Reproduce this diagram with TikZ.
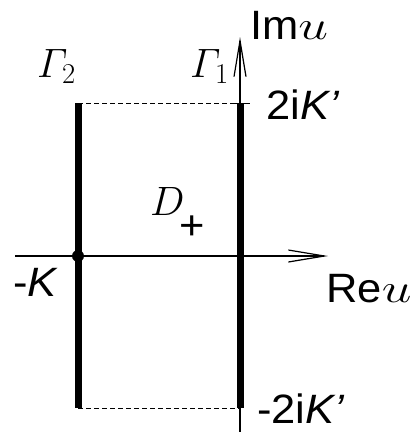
\RequirePackage{fix-cm}
\documentclass[tikz,border=0pt]{standalone}
\usepackage[no-math]{fontspec}
\setmainfont[FakeStretch=1.06]{Liberation Sans}
\usetikzlibrary{arrows.meta}
\DeclareMathSymbol{\itGamma}{\mathord}{letters}{"00}
\newcommand{\wideu}{\scalebox{1.3}[1]{$u$}}
\begin{document}
\begin{tikzpicture}[x=1pt,y=-1pt,
  bold/.style={line width=7pt},
  axis/.style={line width=1.2pt,-{Straight Barb[length=36pt,width=12pt,line width=1.2pt]}},
  guide/.style={line width=1pt,dash pattern=on 5pt off 3pt},
  lbl/.style={inner sep=0pt,anchor=base west,font=\fontsize{41}{41}\selectfont}]
\useasboundingbox (0,0) rectangle (410,432);
% points
\coordinate (tl) at (78,103);
\coordinate (bl) at (78,408);
\coordinate (tr) at (240,103);
\coordinate (br) at (240,408);
\coordinate (ybot) at (240,432);
\coordinate (ytop) at (240,37);
\coordinate (xl) at (15,256);
\coordinate (xr) at (328,256);
\coordinate (tick) at (250,103);
\coordinate (dashend) at (233,103);
% dashed guides
\draw[guide] (tl) -- (dashend);
\draw[line width=1pt] (dashend) -- (tick);
\draw[guide] (bl) -- (br);
% axes
\draw[axis] (ybot) -- (ytop);
\draw[axis] (xl) -- (xr);
% contours
\draw[bold] (tl) -- (bl);
\draw[bold] (tr) -- (br);
\node[circle,fill=black,inner sep=0pt,minimum size=12pt] (dot) at (78,256) {};
% labels
\node[lbl] (im) at (250,39) {Im\wideu};
\node[lbl] (g2) at (37,77) {$\itGamma_2$};
\node[lbl] (g1) at (190,77) {$\itGamma_1$};
\node[lbl] (top) at (266,119) {2i\textit{K'}};
\node[lbl] (d) at (150,215) {$D$};
\node[lbl] (plus) at (179,239) {+};
\node[lbl] (mk) at (13,296) {-\textit{K}};
\node[lbl] (re) at (326,302) {Re\wideu};
\node[lbl] (bot) at (257,423) {-2i\textit{K'}};
\end{tikzpicture}
\end{document}
